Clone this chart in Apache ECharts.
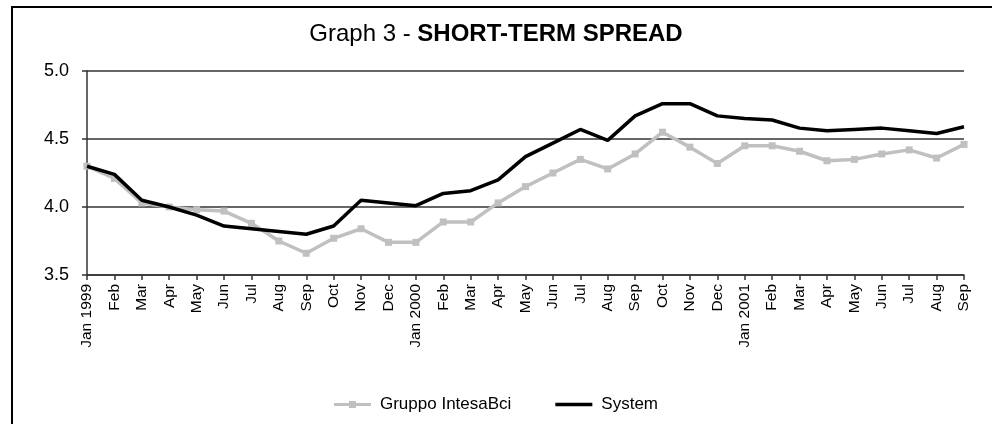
<!DOCTYPE html>
<html>
<head>
<meta charset="utf-8">
<script src="https://cdn.jsdelivr.net/npm/echarts@6/dist/echarts.min.js"></script>
<style>
    html, body { margin: 0; padding: 0; background: #fff; }
    #chart { width: 992px; height: 424px; }
</style>
</head>
<body>
<div id="chart"></div>
<script>
// Short-term spread, monthly Jan 1999 - Sep 2001

const months = [
    'Jan 1999', 'Feb', 'Mar', 'Apr', 'May', 'Jun', 'Jul', 'Aug', 'Sep', 'Oct', 'Nov', 'Dec',
    'Jan 2000', 'Feb', 'Mar', 'Apr', 'May', 'Jun', 'Jul', 'Aug', 'Sep', 'Oct', 'Nov', 'Dec',
    'Jan 2001', 'Feb', 'Mar', 'Apr', 'May', 'Jun', 'Jul', 'Aug', 'Sep'
];

const intesaBci = [
    4.30, 4.21, 4.03, 4.00, 3.98, 3.97, 3.88, 3.75, 3.66, 3.77, 3.84, 3.74,
    3.74, 3.89, 3.89, 4.03, 4.15, 4.25, 4.35, 4.28, 4.39, 4.55, 4.44, 4.32,
    4.45, 4.45, 4.41, 4.34, 4.35, 4.39, 4.42, 4.36, 4.46
];

const system = [
    4.30, 4.24, 4.05, 4.00, 3.94, 3.86, 3.84, 3.82, 3.80, 3.86, 4.05, 4.03,
    4.01, 4.10, 4.12, 4.20, 4.37, 4.47, 4.57, 4.49, 4.67, 4.76, 4.76, 4.67,
    4.65, 4.64, 4.58, 4.56, 4.57, 4.58, 4.56, 4.54, 4.59
];

const yTicks = [3.5, 4.0, 4.5, 5.0];

// legend icons: line with square marker, plain thick line
const grayIcon = 'path://M0,2.5 L37,2.5 L37,5.5 L0,5.5 Z M15,0.5 L22,0.5 L22,7.5 L15,7.5 Z';
const blackIcon = 'path://M0,2.3 L37,2.3 L37,5.7 L0,5.7 Z';

const chart = echarts.init(document.getElementById('chart'));

const option = {
    backgroundColor: '#fff',
    animation: false,
    textStyle: { fontFamily: 'Liberation Sans, Arial, sans-serif', color: '#000' },
    title: {
        text: '{a|Graph 3 - }{b|SHORT-TERM SPREAD}',
        left: 'center',
        top: 17,
        textStyle: {
            rich: {
                a: { fontSize: 24, fontWeight: 'normal', color: '#000', fontFamily: 'Liberation Sans, Arial, sans-serif' },
                b: { fontSize: 24, fontWeight: 'bold', color: '#000', fontFamily: 'Liberation Sans, Arial, sans-serif' }
            }
        }
    },
    graphic: [{
        type: 'rect',
        shape: { x: 12, y: 7, width: 1000, height: 440 },
        style: { fill: 'none', stroke: '#000', lineWidth: 2 },
        silent: true
    }],
    legend: {
        bottom: 6,
        left: 'center',
        itemWidth: 37,
        itemHeight: 8,
        itemGap: 44,
        textStyle: { fontSize: 17, color: '#000', padding: [0, 0, 0, 4] },
        data: [
            { name: 'Gruppo IntesaBci', icon: grayIcon },
            { name: 'System', icon: blackIcon }
        ]
    },
    grid: {
        left: 87,
        right: 28,
        top: 71,
        bottom: 149
    },
    xAxis: {
        type: 'category',
        data: months,
        boundaryGap: false,
        axisLine: { lineStyle: { color: '#333', width: 1.5 } },
        axisTick: { show: true, length: 5, inside: false, lineStyle: { color: '#333', width: 1.5 } },
        axisLabel: {
            interval: 0,
            rotate: 90,
            fontSize: 15.5,
            color: '#000',
            margin: 9
        },
        splitLine: { show: false }
    },
    yAxis: {
        type: 'value',
        min: yTicks[0],
        max: yTicks[yTicks.length - 1],
        interval: 0.5,
        axisLine: { show: true, lineStyle: { color: '#333', width: 1.5 } },
        axisTick: { show: true, length: 5, lineStyle: { color: '#333', width: 1.5 } },
        axisLabel: {
            fontSize: 18,
            color: '#000',
            margin: 18,
            formatter: v => v.toFixed(1)
        },
        splitLine: { show: true, lineStyle: { color: '#333', width: 1.5 } }
    },
    series: [
        {
            name: 'Gruppo IntesaBci',
            type: 'line',
            data: intesaBci,
            symbol: 'rect',
            symbolSize: 7,
            itemStyle: { color: '#c0c0c0' },
            lineStyle: { color: '#c0c0c0', width: 3.5 },
            z: 2
        },
        {
            name: 'System',
            type: 'line',
            data: system,
            symbol: 'none',
            itemStyle: { color: '#000' },
            lineStyle: { color: '#000', width: 3.5 },
            z: 3
        }
    ]
};

chart.setOption(option);
</script>
</body>
</html>
